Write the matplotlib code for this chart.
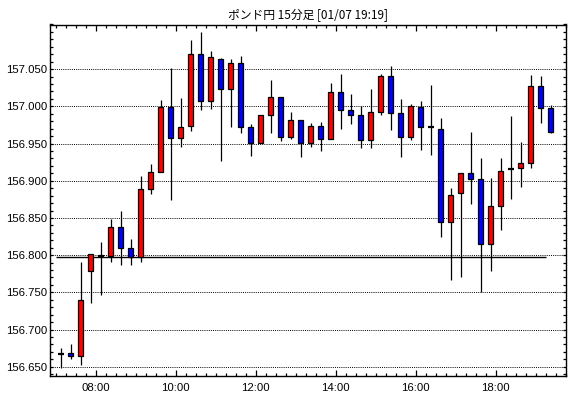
import numpy as np
import pandas as pd
import matplotlib
matplotlib.use("Agg")
import matplotlib.pyplot as plt
from matplotlib.ticker import MultipleLocator, FixedLocator

title = "ポンド円 15分足 [01/07 19:19]"

# 15 minute bars, 07:00 .. 19:15
times = pd.date_range("2025-01-07 07:00", periods=50, freq="15min")
opens = [156.667, 156.668, 156.665, 156.779, 156.799, 156.799, 156.838, 156.809, 156.797, 156.889,
         156.912, 156.999, 156.957, 156.973, 157.070, 157.007, 157.063, 157.023, 157.058, 156.972,
         156.951, 156.988, 157.012, 156.959, 156.981, 156.951, 156.974, 156.956, 157.019, 156.995,
         156.988, 156.955, 156.993, 157.041, 156.991, 156.959, 156.999, 156.972, 156.970, 156.844,
         156.883, 156.910, 156.902, 156.815, 156.866, 156.916, 156.917, 156.924, 157.027, 156.998]
highs = [156.675, 156.680, 156.791, 156.802, 156.818, 156.848, 156.860, 156.822, 156.907, 156.922,
         157.009, 157.052, 157.011, 157.089, 157.100, 157.074, 157.065, 157.063, 157.068, 156.976,
         156.988, 157.035, 157.012, 156.993, 156.982, 156.977, 156.979, 157.032, 157.044, 157.017,
         157.000, 157.023, 157.044, 157.054, 157.010, 157.003, 157.007, 157.029, 156.985, 156.890,
         156.911, 156.966, 156.931, 156.904, 156.931, 156.987, 156.952, 157.042, 157.041, 157.002]
lows = [156.648, 156.661, 156.653, 156.736, 156.746, 156.791, 156.787, 156.787, 156.791, 156.882,
        156.912, 156.874, 156.946, 156.967, 156.995, 156.996, 156.926, 156.972, 156.964, 156.933,
        156.951, 156.964, 156.953, 156.956, 156.932, 156.946, 156.940, 156.956, 156.970, 156.976,
        156.944, 156.944, 156.989, 156.968, 156.932, 156.955, 156.942, 156.935, 156.825, 156.767,
        156.771, 156.869, 156.751, 156.779, 156.834, 156.876, 156.892, 156.917, 156.978, 156.964]
closes = [156.667, 156.665, 156.740, 156.802, 156.799, 156.838, 156.809, 156.797, 156.889, 156.912,
          156.999, 156.957, 156.972, 157.070, 157.007, 157.066, 157.023, 157.058, 156.972, 156.951,
          156.988, 157.012, 156.959, 156.981, 156.951, 156.974, 156.956, 157.019, 156.995, 156.988,
          156.955, 156.993, 157.041, 156.991, 156.959, 157.000, 156.972, 156.972, 156.844, 156.881,
          156.910, 156.902, 156.815, 156.866, 156.913, 156.916, 156.924, 157.027, 156.998, 156.965]
prev_close = 156.797

tick_hours = [8, 10, 12, 14, 16, 18]
tick_labels = ["08:00", "10:00", "12:00", "14:00", "16:00", "18:00"]
price_ticks = [156.65, 156.70, 156.75, 156.80, 156.85, 156.90, 156.95, 157.00, 157.05]

opens = np.array(opens)
closes = np.array(closes)
highs = np.array(highs)
lows = np.array(lows)
# x in hours, bar centred in its 15 min slot
x = times.hour + times.minute / 60 + 0.125

plt.rcParams['font.family'] = ['Liberation Sans', 'DejaVu Sans']

fig = plt.figure(figsize=(5.7, 3.98), dpi=100)
ax = fig.add_axes([50 / 570, 1 - 375.7 / 398, 515.7 / 570, 351.2 / 398])

ax.set_xlim(6.857, 19.75)
ax.set_ylim(156.638, 157.110)

# grid
for y in price_ticks:
    ax.axhline(y, color="black", lw=0.7, ls=(0, (1, 1.2)), zorder=1)

ax.hlines(prev_close, 7.0, 19.25, color="black", lw=1.0, zorder=2)

w = 0.135
up = closes > opens
dn = closes < opens
eq = closes == opens

ax.vlines(x, lows, highs, color="black", lw=0.9, zorder=3)
ax.bar(x[up], (closes - opens)[up], bottom=opens[up], width=w,
       color="#ff0000", edgecolor="black", lw=0.9, zorder=4)
ax.bar(x[dn], (opens - closes)[dn], bottom=closes[dn], width=w,
       color="#0000ff", edgecolor="black", lw=0.9, zorder=4)
ax.hlines(closes[eq], x[eq] - w / 2 - 0.01, x[eq] + w / 2 + 0.01,
          color="black", lw=1.6, zorder=4)

# ticks
ax.xaxis.set_major_locator(FixedLocator(tick_hours))
ax.set_xticklabels(tick_labels)
ax.xaxis.set_minor_locator(MultipleLocator(0.25))
ax.yaxis.set_major_locator(FixedLocator(price_ticks))
ax.yaxis.set_minor_locator(MultipleLocator(0.01))
ax.yaxis.set_major_formatter(lambda v, p: f"{v:.3f}")

ax.tick_params(axis="both", which="both", direction="in",
               top=True, right=True, labelsize=8.2, width=0.9, color="black")
ax.tick_params(axis="x", which="major", length=4.5, pad=5)
ax.tick_params(axis="x", which="minor", length=2.2)
ax.tick_params(axis="y", which="major", length=2.2, pad=2)
ax.tick_params(axis="y", which="minor", length=2.2)

for s in ax.spines.values():
    s.set_linewidth(1.0)

fig.text((50 + 565.7) / 2 / 570, 1 - 15 / 398, title, ha="center", va="center",
         fontsize=8.5, family=["Noto Sans CJK JP", "DejaVu Sans"])

fig.savefig("out.png", dpi=100)
